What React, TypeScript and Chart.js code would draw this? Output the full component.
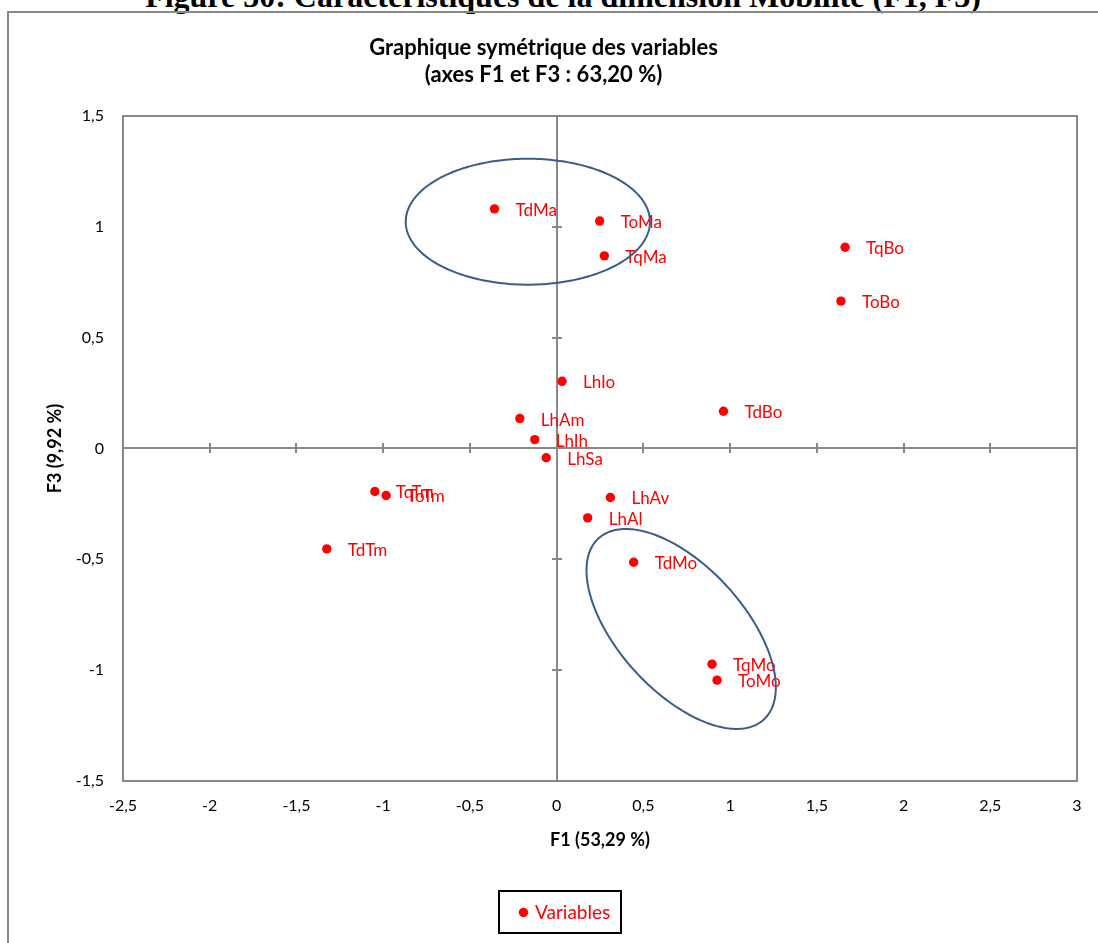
import React, { useEffect, useRef } from "react";
import { Chart, registerables } from "chart.js";

Chart.register(...registerables);

// ---- Data ----
const pointLabels = [
  "TdMa", "ToMa", "TqMa", "TqBo", "ToBo", "LhIo", "TdBo", "LhAm", "LhIh",
  "LhSa", "TqTm", "ToTm", "LhAv", "LhAl", "TdTm", "TdMo", "TqMo", "ToMo",
];
const f1Values = [
  -0.358, 0.248, 0.275, 1.663, 1.639, 0.031, 0.962, -0.212, -0.126,
  -0.060, -1.048, -0.983, 0.310, 0.179, -1.325, 0.444, 0.896, 0.925,
];
const f3Values = [
  1.081, 1.026, 0.869, 0.908, 0.665, 0.303, 0.168, 0.135, 0.040,
  -0.042, -0.194, -0.212, -0.221, -0.313, -0.453, -0.513, -0.973, -1.045,
];
const xTickValues = [-2.5, -2, -1.5, -1, -0.5, 0, 0.5, 1, 1.5, 2, 2.5, 3];
const yTickValues = [-1.5, -1, -0.5, 0, 0.5, 1, 1.5];
const chartTitle = ["Graphique symétrique des variables", "(axes F1 et F3 : 63,20 %)"];
const xAxisTitle = "F1 (53,29 %)";
const yAxisTitle = "F3 (9,92 %)";
const seriesName = "Variables";
const figureHeading = "Figure 30: Caractéristiques de la dimension Mobilité (F1, F3)";
// ellipses (data units): centre, first semi-axis vector, second semi-axis vector
const ellipseCenters = [[-0.166, 1.023], [0.718, -0.814]];
const ellipseAxisU = [[0.704, 0], [0.476, -0.409]];
const ellipseAxisV = [[0, 0.284], [-0.267, -0.19]];

const AXIS_GRAY = "#888888";
const RED = "#FF0000";
const ELLIPSE_BLUE = "#385D8A";

const fmt = (v: number) => String(v).replace(".", ",");

const axesPlugin = {
  id: "excelAxes",
  beforeDatasetsDraw(chart: any) {
    const { ctx, chartArea: a, scales } = chart;
    const x = scales.x;
    const y = scales.y;
    ctx.save();
    ctx.strokeStyle = AXIS_GRAY;
    ctx.lineWidth = 2;
    ctx.strokeRect(a.left, a.top, a.right - a.left, a.bottom - a.top);
    const x0 = Math.round(x.getPixelForValue(0));
    const y0 = Math.round(y.getPixelForValue(0));
    ctx.beginPath();
    ctx.moveTo(a.left, y0);
    ctx.lineTo(a.right, y0);
    ctx.moveTo(x0, a.top);
    ctx.lineTo(x0, a.bottom);
    xTickValues.forEach((v) => {
      const px = Math.round(x.getPixelForValue(v));
      ctx.moveTo(px, y0 - 5);
      ctx.lineTo(px, y0 + 5);
    });
    yTickValues.forEach((v) => {
      const py = Math.round(y.getPixelForValue(v));
      ctx.moveTo(x0 - 5, py);
      ctx.lineTo(x0 + 5, py);
    });
    ctx.stroke();
    ctx.restore();
  },
};

const labelsPlugin = {
  id: "pointNames",
  afterDatasetsDraw(chart: any) {
    const { ctx } = chart;
    const meta = chart.getDatasetMeta(0);
    ctx.save();
    ctx.font = "17px Lato";
    ctx.fillStyle = RED;
    ctx.textAlign = "left";
    ctx.textBaseline = "middle";
    meta.data.forEach((pt: any, i: number) => {
      ctx.fillText(pointLabels[i], pt.x + 21, pt.y + 1.5);
    });
    ctx.restore();
  },
};

const ellipsePlugin = {
  id: "ellipses",
  afterDraw(chart: any) {
    const { ctx, scales } = chart;
    ctx.save();
    ctx.strokeStyle = ELLIPSE_BLUE;
    ctx.lineWidth = 2;
    ellipseCenters.forEach((c, k) => {
      const u = ellipseAxisU[k];
      const v = ellipseAxisV[k];
      ctx.beginPath();
      const n = 240;
      for (let i = 0; i <= n; i++) {
        const t = (i / n) * Math.PI * 2;
        const dx = c[0] + Math.cos(t) * u[0] + Math.sin(t) * v[0];
        const dy = c[1] + Math.cos(t) * u[1] + Math.sin(t) * v[1];
        const px = scales.x.getPixelForValue(dx);
        const py = scales.y.getPixelForValue(dy);
        if (i === 0) ctx.moveTo(px, py);
        else ctx.lineTo(px, py);
      }
      ctx.closePath();
      ctx.stroke();
    });
    ctx.restore();
  },
};

const legendBoxPlugin = {
  id: "legendBox",
  afterDraw(chart: any) {
    const { ctx, chartArea } = chart;
    const ds = chart.data.datasets[0];
    ctx.save();
    ctx.font = "19px Lato";
    const tw = ctx.measureText(ds.label).width;
    const boxW = Math.round(36 + tw + 11);
    const boxH = 42;
    const left = Math.round(chart.width / 2 - 4 - boxW / 2);
    const top = Math.round(chartArea.bottom + 110);
    ctx.strokeStyle = "#000";
    ctx.lineWidth = 2;
    ctx.strokeRect(left, top, boxW, boxH);
    ctx.fillStyle = ds.pointBackgroundColor;
    ctx.beginPath();
    ctx.arc(left + 24.5, top + 21.5, 4.7, 0, Math.PI * 2);
    ctx.fill();
    ctx.textAlign = "left";
    ctx.textBaseline = "middle";
    ctx.fillText(ds.label, left + 36, top + 21.5);
    ctx.restore();
  },
};

export default function App() {
  const canvasRef = useRef<HTMLCanvasElement | null>(null);

  useEffect(() => {
    if (!canvasRef.current) return;
    const points = f1Values.map((x, i) => ({ x, y: f3Values[i] }));
    const tickFont = { family: "Lato", size: 16 };
    const chart = new Chart(canvasRef.current, {
      type: "scatter",
      data: {
        datasets: [
          {
            label: seriesName,
            data: points,
            pointBackgroundColor: RED,
            pointBorderColor: RED,
            pointBorderWidth: 0,
            pointRadius: 4.7,
            pointHoverRadius: 4.7,
            showLine: false,
          },
        ],
      },
      options: {
        animation: false,
        responsive: false,
        maintainAspectRatio: false,
        devicePixelRatio: 1,
        events: [],
        layout: { padding: { left: 0, right: 41, top: 0, bottom: 87 } },
        plugins: {
          legend: { display: false },
          tooltip: { enabled: false },
          title: {
            display: true,
            text: chartTitle,
            color: "#000",
            font: { family: "Lato", size: 22, weight: "bold", lineHeight: 1.22 },
            padding: { top: 21.6, bottom: 27.7 },
          },
        },
        scales: {
          x: {
            type: "linear",
            position: "bottom",
            min: -2.5,
            max: 3,
            afterBuildTicks: (s: any) => {
              s.ticks = xTickValues.map((v) => ({ value: v }));
            },
            afterFit: (s: any) => {
              s.height = 75;
            },
            grid: { display: false, drawTicks: false },
            border: { display: false },
            ticks: {
              padding: 15,
              color: "#000",
              font: tickFont,
              maxRotation: 0,
              autoSkip: false,
              callback: (v: any) => fmt(Number(v)),
            },
            title: {
              display: true,
              text: xAxisTitle,
              color: "#000",
              font: { family: "Lato", size: 18, weight: "bold" },
              padding: { top: 0, bottom: 5.2 },
            },
          },
          y: {
            type: "linear",
            position: "left",
            min: -1.5,
            max: 1.5,
            afterBuildTicks: (s: any) => {
              s.ticks = yTickValues.map((v) => ({ value: v }));
            },
            afterFit: (s: any) => {
              s.width = 113;
            },
            grid: { display: false, drawTicks: false },
            border: { display: false },
            ticks: {
              padding: 19,
              color: "#000",
              font: tickFont,
              autoSkip: false,
              callback: (v: any) => fmt(Number(v)),
            },
            title: {
              display: true,
              text: yAxisTitle,
              color: "#000",
              font: { family: "Lato", size: 18, weight: "bold" },
              padding: { top: 34.2, bottom: 0 },
            },
          },
        },
      } as any,
      plugins: [axesPlugin, labelsPlugin, ellipsePlugin, legendBoxPlugin],
    });
    return () => chart.destroy();
  }, []);

  return (
    <div
      style={{
        position: "absolute",
        left: 0,
        top: 0,
        width: 1098,
        height: 943,
        overflow: "hidden",
        background: "#fff",
      }}
    >
      <div
        style={{
          position: "absolute",
          left: 8,
          top: -20,
          width: 1110,
          textAlign: "center",
          fontFamily: '"Liberation Serif", "Times New Roman", serif',
          fontWeight: "bold",
          fontSize: 32,
          lineHeight: "32px",
          whiteSpace: "nowrap",
          color: "#000",
        }}
      >
        {figureHeading}
      </div>
      <div
        style={{
          position: "absolute",
          left: 7,
          top: 11,
          width: 1200,
          height: 1000,
          borderTop: `2px solid ${AXIS_GRAY}`,
          borderLeft: `2px solid ${AXIS_GRAY}`,
          boxSizing: "border-box",
        }}
      />
      <canvas
        ref={canvasRef}
        width={1108}
        height={930}
        style={{ position: "absolute", left: 10, top: 13, width: 1108, height: 930 }}
      />
    </div>
  );
}
